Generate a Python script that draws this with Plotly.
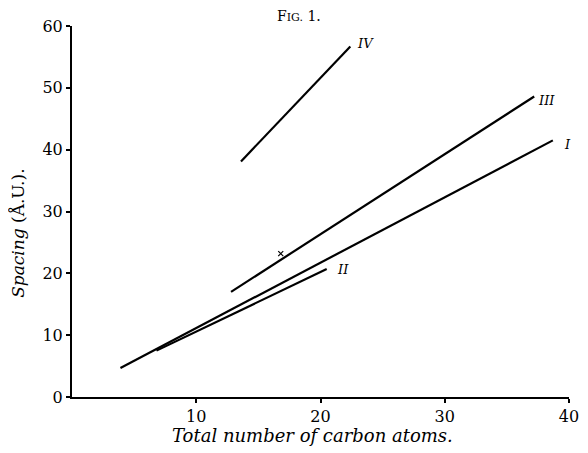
import plotly.graph_objects as go

# Data (x: total number of carbon atoms, y: spacing in Å.U.)
series_names = ["I", "II", "III", "IV"]
I_x = [3.9, 38.7]
I_y = [4.7, 41.5]
II_x = [6.8, 20.5]
II_y = [7.5, 20.7]
III_x = [12.8, 37.2]
III_y = [17.0, 48.6]
IV_x = [13.6, 22.4]
IV_y = [38.1, 56.7]
mark_x = [16.8]
mark_y = [23.2]
label_x = [39.9, 21.8, 38.2, 23.6]
label_y = [40.8, 20.7, 47.9, 57.1]
x_ticks = [10, 20, 30, 40]
y_ticks = [0, 10, 20, 30, 40, 50, 60]

SERIF = "DejaVu Serif"

fig = go.Figure()
for xs, ys in [(I_x, I_y), (II_x, II_y), (III_x, III_y), (IV_x, IV_y)]:
    fig.add_trace(go.Scatter(x=xs, y=ys, mode="lines",
                             line=dict(color="black", width=2.2),
                             showlegend=False, hoverinfo="skip"))
fig.add_trace(go.Scatter(x=mark_x, y=mark_y, mode="markers",
                         marker=dict(symbol="x-thin", size=5, color="black",
                                     line=dict(color="black", width=1.2)),
                         showlegend=False, hoverinfo="skip"))

for name, lx, ly in zip(series_names, label_x, label_y):
    fig.add_annotation(x=lx, y=ly, text="<i>" + name + "</i>", showarrow=False,
                       font=dict(family=SERIF, size=13, color="black"),
                       xanchor="center", yanchor="middle")

fig.add_annotation(xref="paper", yref="paper", x=0.457, y=1, yshift=20,
                   text="F<span style='font-size:11px'>IG.</span> 1.", showarrow=False,
                   font=dict(family=SERIF, size=14, color="black"),
                   xanchor="center", yanchor="top")
fig.add_annotation(xref="paper", yref="paper", x=0.483, y=-0.105,
                   text="<i>Total number of carbon atoms.</i>", showarrow=False,
                   font=dict(family=SERIF, size=18, color="black"),
                   xanchor="center", yanchor="middle")
fig.add_annotation(xref="paper", yref="paper", x=-0.1085, y=0.44,
                   text="<i>Spacing</i> (Å.U.).", showarrow=False, textangle=-90,
                   font=dict(family=SERIF, size=17, color="black"),
                   xanchor="center", yanchor="middle")

fig.update_xaxes(range=[0, 40], tickvals=x_ticks, ticktext=[str(v) for v in x_ticks],
                 showline=True, linecolor="black", linewidth=2, showgrid=False,
                 zeroline=False, ticks="outside", ticklen=4, tickwidth=1.5,
                 tickcolor="black", ticklabeloverflow="allow",
                 tickfont=dict(family=SERIF, size=16, color="black"))
fig.update_yaxes(range=[0, 60], tickvals=y_ticks, ticktext=[str(v) for v in y_ticks],
                 showline=True, linecolor="black", linewidth=2, showgrid=False,
                 zeroline=False, ticks="outside", ticklen=4, tickwidth=1.5,
                 tickcolor="black", tickfont=dict(family=SERIF, size=16, color="black"))

# The page adds an 8px body margin, so the figure is sized to fit the window
fig.update_layout(width=580, height=445, margin=dict(l=64, r=9, t=14, b=56),
                  plot_bgcolor="white", paper_bgcolor="white")
fig.write_html("out.html")
